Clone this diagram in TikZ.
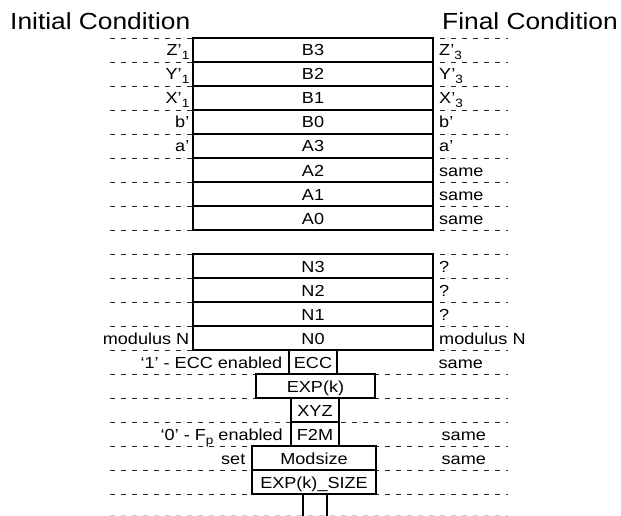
\documentclass[tikz,border=0pt]{standalone}
\usepackage{fontspec}
\setmainfont{Liberation Sans}[FakeStretch=1.13]
\usetikzlibrary{positioning}
\definecolor{GuideClr}{gray}{0.15}
\definecolor{FadeClr}{gray}{0.8}
\newcommand{\lowidx}[1]{\raisebox{-4pt}{\fontsize{12}{12}\selectfont #1}}

\begin{document}
\begin{tikzpicture}[x=1pt,y=-1pt,
  every node/.style={font=\fontsize{16}{18}\selectfont},
  cell/.style={draw,fill=white,line width=1.1pt,inner sep=0pt,outer sep=0pt,
    minimum height=24pt,text height=12pt,text depth=0pt,anchor=north west},
  tag/.style={fill=white,inner sep=.5pt,text height=12pt,text depth=0pt},
  guide/.style={color=GuideClr,line width=.8pt,dash pattern=on 5pt off 6pt},
  heading/.style={font=\fontsize{23.3}{26}\selectfont,anchor=base west,inner sep=0pt}]
\useasboundingbox (0,0) rectangle (621,516);

% Titres des deux colonnes.
\node[heading] (init) at (10,30) {Initial Condition};
\node[heading] (final) at (442,30) {Final Condition};

% Lignes pointillees de repere.
\foreach \k in {0,...,19}
  \draw[guide] (110,{38+24*\k}) -- (508,{38+24*\k});
\draw[guide,color=FadeClr] (110,515.5) -- (508,515.5);

% Colonne principale des registres.
\node[cell,minimum width=240pt] (b3) at (193,38) {B3};
\node[cell,minimum width=240pt,below=0pt of b3] (b2) {B2};
\node[cell,minimum width=240pt,below=0pt of b2] (b1) {B1};
\node[cell,minimum width=240pt,below=0pt of b1] (b0) {B0};
\node[cell,minimum width=240pt,below=0pt of b0] (a3) {A3};
\node[cell,minimum width=240pt,below=0pt of a3] (a2) {A2};
\node[cell,minimum width=240pt,below=0pt of a2] (a1) {A1};
\node[cell,minimum width=240pt,below=0pt of a1] (a0) {A0};
\node[cell,minimum width=240pt,below=24pt of a0] (n3) {N3};
\node[cell,minimum width=240pt,below=0pt of n3] (n2) {N2};
\node[cell,minimum width=240pt,below=0pt of n2] (n1) {N1};
\node[cell,minimum width=240pt,below=0pt of n1] (n0) {N0};

% Registres de controle.
\node[cell,minimum width=48pt] (ecc) at (289,350) {ECC};
\node[cell,minimum width=119pt] (expk) at (256,374) {EXP(k)};
\node[cell,minimum width=48pt] (xyz) at (291,398) {XYZ};
\node[cell,minimum width=48pt] (ftwom) at (291,422) {F2M};
\node[cell,minimum width=124pt] (modsize) at (252,446) {Modsize};
\node[cell,minimum width=124pt] (expsize) at (252,470) {EXP(k)\_SIZE};

% Suite de la pile (coupee).
\coordinate (tailL) at ([xshift=-11pt]expsize.south);
\coordinate (tailR) at ([xshift=13pt]expsize.south);
\draw[line width=1.1pt] (tailL) -- ++(0,24);
\draw[line width=1.1pt] (tailR) -- ++(0,24);

% Etat initial.
\node[tag,left=3pt of b3] (iz) {Z’\lowidx{1}};
\node[tag,left=3pt of b2] (iy) {Y’\lowidx{1}};
\node[tag,left=3pt of b1] (ix) {X’\lowidx{1}};
\node[tag,left=3pt of b0] (ib) {b’};
\node[tag,left=3pt of a3] (ia) {a’};
\node[tag,left=3pt of n0] (in) {modulus N};
\node[tag,left=6pt of ecc] (iecc) {‘1’ - ECC enabled};
\node[tag,left=7.5pt of ftwom] (ifp) {‘0’ - F\lowidx{p} enabled};
\node[tag,left=6pt of modsize] (iset) {set};

% Etat final.
\node[tag,right=5.5pt of b3] (fz) {Z’\lowidx{3}};
\node[tag,right=5.5pt of b2] (fy) {Y’\lowidx{3}};
\node[tag,right=5.5pt of b1] (fx) {X’\lowidx{3}};
\node[tag,right=5.5pt of b0] (fb) {b’};
\node[tag,right=5.5pt of a3] (fa) {a’};
\node[tag,right=5.5pt of a2] (fatwo) {same};
\node[tag,right=5.5pt of a1] (faone) {same};
\node[tag,right=5.5pt of a0] (fazero) {same};
\node[tag,right=5.5pt of n3] (fnthree) {?};
\node[tag,right=5.5pt of n2] (fntwo) {?};
\node[tag,right=5.5pt of n1] (fnone) {?};
\node[tag,right=5.5pt of n0] (fn) {modulus N};
\node[tag,anchor=west,xshift=5pt] (fecc) at (ecc -| n0.east) {same};
\node[tag,anchor=west,xshift=8pt] (ffp) at (ftwom -| n0.east) {same};
\node[tag,anchor=west,xshift=8pt] (fset) at (modsize -| n0.east) {same};

\end{tikzpicture}
\end{document}
